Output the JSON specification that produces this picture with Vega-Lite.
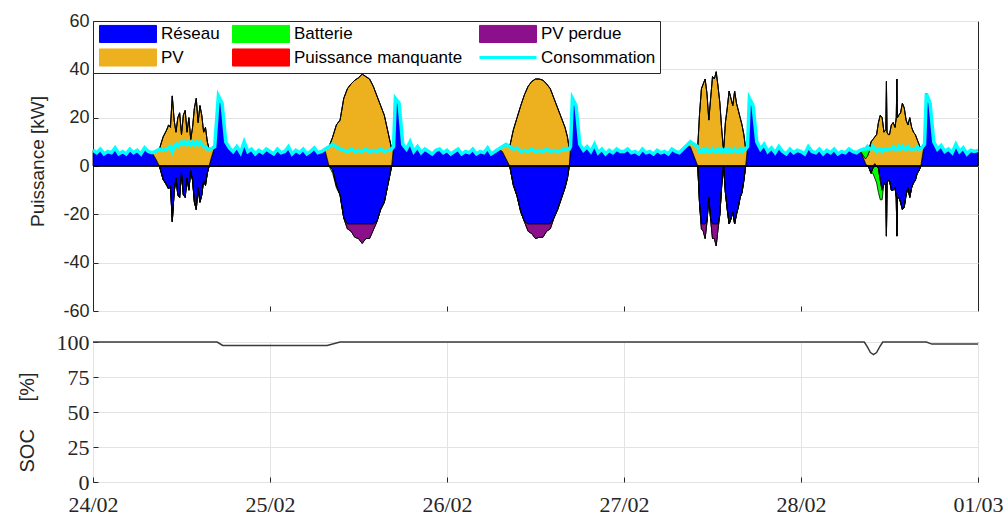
{
"$schema": "https://vega.github.io/schema/vega-lite/v6.json",
"background": "white",
"padding": {"left": 16, "top": 11, "right": 5, "bottom": 5},
"spacing": 31,
"bounds": "flush",
"resolve": {"scale": {"x": "independent", "y": "independent"}},
"config": {
"view": {"stroke": "#262626", "strokeWidth": 1},
"axis": {"domain": false, "tickColor": "#262626", "tickSize": -5, "tickWidth": 1, "labelColor": "#262626", "titleColor": "#262626", "titleFontWeight": "normal", "gridColor": "#e3e3e3", "gridWidth": 1},
"legend": {"symbolSize": 3249, "symbolType": "M-1,-0.3H1V0.3H-1Z", "symbolStrokeWidth": 1}
},
"datasets": {
"puissance": [
{"t":"2019-02-24T00:00","Réseau":6.5,"Consommation":6.5},
{"t":"2019-02-24T00:30","Réseau":5.5,"Consommation":5.5},
{"t":"2019-02-24T01:00","Réseau":7,"Consommation":7},
{"t":"2019-02-24T01:30","Réseau":5,"Consommation":5},
{"t":"2019-02-24T02:00","Réseau":6,"Consommation":6},
{"t":"2019-02-24T02:30","Réseau":5.5,"Consommation":5.5},
{"t":"2019-02-24T03:00","Réseau":7.5,"Consommation":7.5},
{"t":"2019-02-24T03:30","Réseau":5,"Consommation":5},
{"t":"2019-02-24T04:00","Réseau":6,"Consommation":6},
{"t":"2019-02-24T04:30","Réseau":5,"Consommation":5},
{"t":"2019-02-24T05:00","Réseau":7,"Consommation":7},
{"t":"2019-02-24T05:30","Réseau":5.5,"Consommation":5.5},
{"t":"2019-02-24T06:00","Réseau":6.5,"Consommation":6.5},
{"t":"2019-02-24T06:30","Réseau":5,"Consommation":5},
{"t":"2019-02-24T07:00","Réseau":7.5,"Consommation":7.5},
{"t":"2019-02-24T07:30","Réseau":6,"Consommation":6},
{"t":"2019-02-24T08:00","Réseau":5.5,"Consommation":5.5},
{"t":"2019-02-24T08:30","Réseau":3,"PV":3,"Consommation":6},
{"t":"2019-02-24T09:00","Réseau":0,"PV":7,"Consommation":7},
{"t":"2019-02-24T09:30","Réseau":-5.5,"PV":12,"Consommation":6.5},
{"t":"2019-02-24T10:00","Réseau":-8,"PV":15,"Consommation":7},
{"t":"2019-02-24T10:15","Réseau":-9.5,"PV":17,"Consommation":7.5},
{"t":"2019-02-24T10:30","Réseau":-8,"PV":16,"Consommation":8},
{"t":"2019-02-24T10:45","Réseau":-23,"PV":29,"Consommation":6},
{"t":"2019-02-24T11:00","Réseau":-11,"PV":19,"Consommation":8},
{"t":"2019-02-24T11:15","Réseau":-5,"PV":14,"Consommation":9},
{"t":"2019-02-24T11:30","Réseau":-12,"PV":20,"Consommation":8},
{"t":"2019-02-24T11:45","Réseau":-13,"PV":22,"Consommation":9},
{"t":"2019-02-24T12:00","Réseau":-3,"PV":13,"Consommation":10},
{"t":"2019-02-24T12:15","Réseau":-12,"PV":21,"Consommation":9},
{"t":"2019-02-24T12:30","Réseau":-13,"PV":23,"Consommation":10},
{"t":"2019-02-24T12:45","Réseau":-5,"PV":14,"Consommation":9},
{"t":"2019-02-24T13:00","Réseau":-10,"PV":20,"Consommation":10},
{"t":"2019-02-24T13:15","Réseau":-2,"PV":11,"Consommation":9},
{"t":"2019-02-24T13:30","Réseau":-6,"PV":16,"Consommation":10},
{"t":"2019-02-24T13:45","Réseau":-15,"PV":24,"Consommation":9},
{"t":"2019-02-24T14:00","Réseau":-18,"PV":28,"Consommation":10},
{"t":"2019-02-24T14:15","Réseau":-9,"PV":18,"Consommation":9},
{"t":"2019-02-24T14:30","Réseau":-15,"PV":25,"Consommation":10},
{"t":"2019-02-24T14:45","Réseau":-12,"PV":21,"Consommation":9},
{"t":"2019-02-24T15:00","Réseau":-6,"PV":14,"Consommation":8},
{"t":"2019-02-24T15:15","Réseau":-8,"PV":16,"Consommation":8},
{"t":"2019-02-24T15:30","Réseau":-3,"PV":10,"Consommation":7},
{"t":"2019-02-24T15:45","Réseau":0,"PV":7,"Consommation":7},
{"t":"2019-02-24T16:00","Réseau":3,"PV":4,"Consommation":7},
{"t":"2019-02-24T16:30","Réseau":8,"Consommation":8},
{"t":"2019-02-24T17:00","Réseau":29,"Consommation":29},
{"t":"2019-02-24T17:30","Réseau":26,"Consommation":26},
{"t":"2019-02-24T18:00","Réseau":10,"Consommation":10},
{"t":"2019-02-24T18:30","Réseau":7.5,"Consommation":7.5},
{"t":"2019-02-24T19:00","Réseau":6,"Consommation":6},
{"t":"2019-02-24T19:30","Réseau":8,"Consommation":8},
{"t":"2019-02-24T20:00","Réseau":5.5,"Consommation":5.5},
{"t":"2019-02-24T20:30","Réseau":10,"Consommation":10},
{"t":"2019-02-24T21:00","Réseau":6,"Consommation":6},
{"t":"2019-02-24T21:30","Réseau":7,"Consommation":7},
{"t":"2019-02-24T22:00","Réseau":5,"Consommation":5},
{"t":"2019-02-24T22:30","Réseau":6.5,"Consommation":6.5},
{"t":"2019-02-24T23:00","Réseau":5.5,"Consommation":5.5},
{"t":"2019-02-24T23:30","Réseau":7,"Consommation":7},
{"t":"2019-02-25T00:00","Réseau":6,"Consommation":6},
{"t":"2019-02-25T00:30","Réseau":5,"Consommation":5},
{"t":"2019-02-25T01:00","Réseau":7,"Consommation":7},
{"t":"2019-02-25T01:30","Réseau":5.5,"Consommation":5.5},
{"t":"2019-02-25T02:00","Réseau":6,"Consommation":6},
{"t":"2019-02-25T02:30","Réseau":8,"Consommation":8},
{"t":"2019-02-25T03:00","Réseau":5,"Consommation":5},
{"t":"2019-02-25T03:30","Réseau":6.5,"Consommation":6.5},
{"t":"2019-02-25T04:00","Réseau":5.5,"Consommation":5.5},
{"t":"2019-02-25T04:30","Réseau":7,"Consommation":7},
{"t":"2019-02-25T05:00","Réseau":5,"Consommation":5},
{"t":"2019-02-25T05:30","Réseau":6,"Consommation":6},
{"t":"2019-02-25T06:00","Réseau":7.5,"Consommation":7.5},
{"t":"2019-02-25T06:30","Réseau":5.5,"Consommation":5.5},
{"t":"2019-02-25T07:00","Réseau":6,"Consommation":6},
{"t":"2019-02-25T07:30","Réseau":6,"PV":1,"Consommation":7},
{"t":"2019-02-25T08:00","Réseau":0,"PV":8,"Consommation":8},
{"t":"2019-02-25T08:30","Réseau":-1.5,"PV":12,"Batterie":-1.5,"Consommation":9},
{"t":"2019-02-25T09:00","Réseau":-8,"PV":17,"Batterie":-1,"Consommation":8},
{"t":"2019-02-25T09:30","Réseau":-12,"PV":19,"Consommation":7},
{"t":"2019-02-25T10:00","Réseau":-21.5,"PV":28,"Consommation":6.5},
{"t":"2019-02-25T10:30","Réseau":-24,"PV":32,"PV perdue":-2,"Consommation":6},
{"t":"2019-02-25T11:00","Réseau":-24,"PV":34,"PV perdue":-3,"Consommation":7},
{"t":"2019-02-25T11:30","Réseau":-24,"PV":35.5,"PV perdue":-5.5,"Consommation":6},
{"t":"2019-02-25T12:00","Réseau":-24,"PV":36.5,"PV perdue":-6,"Consommation":6.5},
{"t":"2019-02-25T12:30","Réseau":-24,"PV":38,"PV perdue":-8,"Consommation":6},
{"t":"2019-02-25T13:00","Réseau":-24,"PV":37,"PV perdue":-6,"Consommation":7},
{"t":"2019-02-25T13:30","Réseau":-24,"PV":36,"PV perdue":-6,"Consommation":6},
{"t":"2019-02-25T14:00","Réseau":-24,"PV":33,"PV perdue":-2.5,"Consommation":6.5},
{"t":"2019-02-25T14:30","Réseau":-23,"PV":29,"Consommation":6},
{"t":"2019-02-25T15:00","Réseau":-18,"PV":25,"Consommation":7},
{"t":"2019-02-25T15:30","Réseau":-15,"PV":21,"Consommation":6},
{"t":"2019-02-25T16:00","Réseau":-7.5,"PV":14,"Consommation":6.5},
{"t":"2019-02-25T16:30","Réseau":0,"PV":7,"Consommation":7},
{"t":"2019-02-25T16:45","Réseau":8,"Consommation":8},
{"t":"2019-02-25T17:00","Réseau":28,"Consommation":28},
{"t":"2019-02-25T17:30","Réseau":26,"Consommation":26},
{"t":"2019-02-25T18:00","Réseau":9,"Consommation":9},
{"t":"2019-02-25T18:30","Réseau":7,"Consommation":7},
{"t":"2019-02-25T19:00","Réseau":10,"Consommation":10},
{"t":"2019-02-25T19:30","Réseau":6,"Consommation":6},
{"t":"2019-02-25T20:00","Réseau":8,"Consommation":8},
{"t":"2019-02-25T20:30","Réseau":5.5,"Consommation":5.5},
{"t":"2019-02-25T21:00","Réseau":7,"Consommation":7},
{"t":"2019-02-25T21:30","Réseau":6,"Consommation":6},
{"t":"2019-02-25T22:00","Réseau":5,"Consommation":5},
{"t":"2019-02-25T22:30","Réseau":6.5,"Consommation":6.5},
{"t":"2019-02-25T23:00","Réseau":7,"Consommation":7},
{"t":"2019-02-25T23:30","Réseau":5.5,"Consommation":5.5},
{"t":"2019-02-26T00:00","Réseau":6.5,"Consommation":6.5},
{"t":"2019-02-26T00:30","Réseau":5,"Consommation":5},
{"t":"2019-02-26T01:00","Réseau":6,"Consommation":6},
{"t":"2019-02-26T01:30","Réseau":7,"Consommation":7},
{"t":"2019-02-26T02:00","Réseau":5,"Consommation":5},
{"t":"2019-02-26T02:30","Réseau":6,"Consommation":6},
{"t":"2019-02-26T03:00","Réseau":5.5,"Consommation":5.5},
{"t":"2019-02-26T03:30","Réseau":7,"Consommation":7},
{"t":"2019-02-26T04:00","Réseau":5,"Consommation":5},
{"t":"2019-02-26T04:30","Réseau":6,"Consommation":6},
{"t":"2019-02-26T05:00","Réseau":5.5,"Consommation":5.5},
{"t":"2019-02-26T05:30","Réseau":7.5,"Consommation":7.5},
{"t":"2019-02-26T06:00","Réseau":5,"Consommation":5},
{"t":"2019-02-26T06:30","Réseau":6,"Consommation":6},
{"t":"2019-02-26T07:00","Réseau":7,"Consommation":7},
{"t":"2019-02-26T07:30","Réseau":6,"PV":2,"Consommation":8},
{"t":"2019-02-26T08:00","Réseau":3,"PV":6,"Consommation":9},
{"t":"2019-02-26T08:30","Réseau":0,"PV":8,"Consommation":8},
{"t":"2019-02-26T09:00","Réseau":-8,"PV":15,"Consommation":7},
{"t":"2019-02-26T09:30","Réseau":-12.5,"PV":20,"Consommation":7.5},
{"t":"2019-02-26T10:00","Réseau":-19,"PV":25,"Consommation":6},
{"t":"2019-02-26T10:30","Réseau":-23,"PV":29.5,"Consommation":6.5},
{"t":"2019-02-26T11:00","Réseau":-24,"PV":33,"PV perdue":-3,"Consommation":6},
{"t":"2019-02-26T11:30","Réseau":-24,"PV":35,"PV perdue":-4,"Consommation":7},
{"t":"2019-02-26T12:00","Réseau":-24,"PV":36,"PV perdue":-6,"Consommation":6},
{"t":"2019-02-26T12:30","Réseau":-24,"PV":36,"PV perdue":-5.5,"Consommation":6.5},
{"t":"2019-02-26T13:00","Réseau":-24,"PV":35.5,"PV perdue":-5.5,"Consommation":6},
{"t":"2019-02-26T13:30","Réseau":-24,"PV":34,"PV perdue":-3,"Consommation":7},
{"t":"2019-02-26T14:00","Réseau":-24,"PV":32,"PV perdue":-2,"Consommation":6},
{"t":"2019-02-26T14:30","Réseau":-21.5,"PV":28,"Consommation":6.5},
{"t":"2019-02-26T15:00","Réseau":-18,"PV":24,"Consommation":6},
{"t":"2019-02-26T15:30","Réseau":-13.5,"PV":20,"Consommation":6.5},
{"t":"2019-02-26T16:00","Réseau":-9,"PV":16,"Consommation":7},
{"t":"2019-02-26T16:20","Réseau":-5,"PV":12,"Consommation":7},
{"t":"2019-02-26T16:35","Réseau":0,"PV":7,"Consommation":7},
{"t":"2019-02-26T16:45","Réseau":8,"Consommation":8},
{"t":"2019-02-26T17:00","Réseau":28,"Consommation":28},
{"t":"2019-02-26T17:30","Réseau":25,"Consommation":25},
{"t":"2019-02-26T18:00","Réseau":9,"Consommation":9},
{"t":"2019-02-26T18:30","Réseau":6.5,"Consommation":6.5},
{"t":"2019-02-26T19:00","Réseau":8,"Consommation":8},
{"t":"2019-02-26T19:30","Réseau":6,"Consommation":6},
{"t":"2019-02-26T20:00","Réseau":9,"Consommation":9},
{"t":"2019-02-26T20:30","Réseau":5.5,"Consommation":5.5},
{"t":"2019-02-26T21:00","Réseau":7,"Consommation":7},
{"t":"2019-02-26T21:30","Réseau":5,"Consommation":5},
{"t":"2019-02-26T22:00","Réseau":6.5,"Consommation":6.5},
{"t":"2019-02-26T22:30","Réseau":5.5,"Consommation":5.5},
{"t":"2019-02-26T23:00","Réseau":7,"Consommation":7},
{"t":"2019-02-26T23:30","Réseau":6,"Consommation":6},
{"t":"2019-02-27T00:00","Réseau":6,"Consommation":6},
{"t":"2019-02-27T00:30","Réseau":7,"Consommation":7},
{"t":"2019-02-27T01:00","Réseau":5.5,"Consommation":5.5},
{"t":"2019-02-27T01:30","Réseau":6,"Consommation":6},
{"t":"2019-02-27T02:00","Réseau":5,"Consommation":5},
{"t":"2019-02-27T02:30","Réseau":7,"Consommation":7},
{"t":"2019-02-27T03:00","Réseau":5.5,"Consommation":5.5},
{"t":"2019-02-27T03:30","Réseau":6,"Consommation":6},
{"t":"2019-02-27T04:00","Réseau":5,"Consommation":5},
{"t":"2019-02-27T04:30","Réseau":6.5,"Consommation":6.5},
{"t":"2019-02-27T05:00","Réseau":5.5,"Consommation":5.5},
{"t":"2019-02-27T05:30","Réseau":6,"Consommation":6},
{"t":"2019-02-27T06:00","Réseau":5,"Consommation":5},
{"t":"2019-02-27T06:30","Réseau":7,"Consommation":7},
{"t":"2019-02-27T07:00","Réseau":6,"Consommation":6},
{"t":"2019-02-27T07:30","Réseau":5.5,"Consommation":5.5},
{"t":"2019-02-27T08:00","Réseau":7,"Consommation":7},
{"t":"2019-02-27T08:30","Réseau":8.5,"Consommation":8.5},
{"t":"2019-02-27T09:00","Réseau":8,"PV":2,"Consommation":10},
{"t":"2019-02-27T09:30","Réseau":4,"PV":5,"Consommation":9},
{"t":"2019-02-27T10:00","Réseau":0,"PV":8,"Consommation":8},
{"t":"2019-02-27T10:15","Réseau":-16,"PV":22,"Consommation":6},
{"t":"2019-02-27T10:30","Réseau":-24,"PV":32,"PV perdue":-2,"Consommation":6},
{"t":"2019-02-27T10:45","Réseau":-24,"PV":34,"PV perdue":-3,"Consommation":7},
{"t":"2019-02-27T11:00","Réseau":-24,"PV":36,"PV perdue":-6,"Consommation":6},
{"t":"2019-02-27T11:15","Réseau":-23,"PV":30,"Consommation":7},
{"t":"2019-02-27T11:30","Réseau":-13,"PV":19,"Consommation":6},
{"t":"2019-02-27T11:45","Réseau":-22,"PV":28,"Consommation":6},
{"t":"2019-02-27T12:00","Réseau":-24,"PV":37,"PV perdue":-6,"Consommation":7},
{"t":"2019-02-27T12:15","Réseau":-24,"PV":36,"PV perdue":-6,"Consommation":6},
{"t":"2019-02-27T12:30","Réseau":-24,"PV":39,"PV perdue":-9,"Consommation":6},
{"t":"2019-02-27T12:45","Réseau":-24,"PV":33,"PV perdue":-2,"Consommation":7},
{"t":"2019-02-27T13:00","Réseau":-20,"PV":26,"Consommation":6},
{"t":"2019-02-27T13:15","Réseau":-8,"PV":15,"Consommation":7},
{"t":"2019-02-27T13:30","Réseau":0,"PV":6,"Consommation":6},
{"t":"2019-02-27T13:45","Réseau":-11,"PV":18,"Consommation":7},
{"t":"2019-02-27T14:00","Réseau":-18,"PV":24,"Consommation":6},
{"t":"2019-02-27T14:15","Réseau":-24,"PV":31,"Consommation":7},
{"t":"2019-02-27T14:30","Réseau":-22,"PV":28,"Consommation":6},
{"t":"2019-02-27T14:45","Réseau":-19,"PV":25,"Consommation":6},
{"t":"2019-02-27T15:00","Réseau":-24,"PV":31,"Consommation":7},
{"t":"2019-02-27T15:15","Réseau":-20,"PV":26,"Consommation":6},
{"t":"2019-02-27T15:30","Réseau":-17,"PV":23,"Consommation":6},
{"t":"2019-02-27T15:45","Réseau":-13,"PV":20,"Consommation":7},
{"t":"2019-02-27T16:00","Réseau":-11,"PV":17,"Consommation":6},
{"t":"2019-02-27T16:15","Réseau":-6,"PV":13,"Consommation":7},
{"t":"2019-02-27T16:30","Réseau":0,"PV":7,"Consommation":7},
{"t":"2019-02-27T16:45","Réseau":8,"Consommation":8},
{"t":"2019-02-27T17:00","Réseau":28,"Consommation":28},
{"t":"2019-02-27T17:30","Réseau":25,"Consommation":25},
{"t":"2019-02-27T18:00","Réseau":10,"Consommation":10},
{"t":"2019-02-27T18:30","Réseau":7,"Consommation":7},
{"t":"2019-02-27T19:00","Réseau":9,"Consommation":9},
{"t":"2019-02-27T19:30","Réseau":6,"Consommation":6},
{"t":"2019-02-27T20:00","Réseau":7.5,"Consommation":7.5},
{"t":"2019-02-27T20:30","Réseau":5.5,"Consommation":5.5},
{"t":"2019-02-27T21:00","Réseau":8,"Consommation":8},
{"t":"2019-02-27T21:30","Réseau":6,"Consommation":6},
{"t":"2019-02-27T22:00","Réseau":5,"Consommation":5},
{"t":"2019-02-27T22:30","Réseau":7,"Consommation":7},
{"t":"2019-02-27T23:00","Réseau":5.5,"Consommation":5.5},
{"t":"2019-02-27T23:30","Réseau":6.5,"Consommation":6.5},
{"t":"2019-02-28T00:00","Réseau":6,"Consommation":6},
{"t":"2019-02-28T00:30","Réseau":5,"Consommation":5},
{"t":"2019-02-28T01:00","Réseau":8,"Consommation":8},
{"t":"2019-02-28T01:30","Réseau":6,"Consommation":6},
{"t":"2019-02-28T02:00","Réseau":5.5,"Consommation":5.5},
{"t":"2019-02-28T02:30","Réseau":7,"Consommation":7},
{"t":"2019-02-28T03:00","Réseau":5,"Consommation":5},
{"t":"2019-02-28T03:30","Réseau":6.5,"Consommation":6.5},
{"t":"2019-02-28T04:00","Réseau":5.5,"Consommation":5.5},
{"t":"2019-02-28T04:30","Réseau":7,"Consommation":7},
{"t":"2019-02-28T05:00","Réseau":5,"Consommation":5},
{"t":"2019-02-28T05:30","Réseau":6,"Consommation":6},
{"t":"2019-02-28T06:00","Réseau":5.5,"Consommation":5.5},
{"t":"2019-02-28T06:30","Réseau":7,"Consommation":7},
{"t":"2019-02-28T07:00","Réseau":6,"Consommation":6},
{"t":"2019-02-28T07:30","Réseau":5.5,"Consommation":5.5},
{"t":"2019-02-28T08:00","Réseau":6.5,"Consommation":6.5},
{"t":"2019-02-28T08:30","Réseau":3,"PV":1,"Batterie":3,"Consommation":7},
{"t":"2019-02-28T08:45","Réseau":1,"PV":2,"Batterie":4,"Consommation":7},
{"t":"2019-02-28T09:00","Réseau":0,"PV":4,"Batterie":4,"Consommation":8},
{"t":"2019-02-28T09:15","Réseau":-1,"PV":6,"Batterie":2,"Consommation":7},
{"t":"2019-02-28T09:30","Réseau":-3,"PV":10,"Consommation":7},
{"t":"2019-02-28T09:45","Réseau":-1,"PV":11,"Batterie":-2,"Consommation":8},
{"t":"2019-02-28T10:00","Réseau":1,"PV":11,"Batterie":-5,"Consommation":7},
{"t":"2019-02-28T10:15","Réseau":0,"PV":13,"Batterie":-7,"Consommation":6},
{"t":"2019-02-28T10:30","Réseau":-1,"PV":18,"Batterie":-10,"Consommation":7},
{"t":"2019-02-28T10:45","Réseau":-6,"PV":21,"Batterie":-8,"Consommation":7},
{"t":"2019-02-28T11:00","Réseau":-10,"PV":20,"Batterie":-4,"Consommation":6},
{"t":"2019-02-28T11:15","Réseau":-7,"PV":14,"Consommation":7},
{"t":"2019-02-28T11:30","Réseau":-8,"PV":15,"Consommation":7},
{"t":"2019-02-28T11:35","Réseau":-29,"PV":35,"Consommation":6},
{"t":"2019-02-28T11:40","Réseau":-7,"PV":14,"Consommation":7},
{"t":"2019-02-28T11:50","Réseau":-6,"PV":13,"Consommation":7},
{"t":"2019-02-28T12:00","Réseau":-6,"PV":13,"Consommation":7},
{"t":"2019-02-28T12:15","Réseau":-10,"PV":17,"Consommation":7},
{"t":"2019-02-28T12:30","Réseau":-10,"PV":18,"Consommation":8},
{"t":"2019-02-28T12:45","Réseau":-9,"PV":16,"Consommation":7},
{"t":"2019-02-28T12:55","Réseau":-13,"PV":20,"Consommation":7},
{"t":"2019-02-28T13:00","Réseau":-29,"PV":36,"Consommation":7},
{"t":"2019-02-28T13:05","Réseau":-13,"PV":20,"Consommation":7},
{"t":"2019-02-28T13:15","Réseau":-13,"PV":21,"Consommation":8},
{"t":"2019-02-28T13:30","Réseau":-15,"PV":22,"Consommation":7},
{"t":"2019-02-28T13:45","Réseau":-18,"PV":26,"Consommation":8},
{"t":"2019-02-28T14:00","Réseau":-17,"PV":24,"Consommation":7},
{"t":"2019-02-28T14:15","Réseau":-12,"PV":19,"Consommation":7},
{"t":"2019-02-28T14:30","Réseau":-9,"PV":17,"Consommation":8},
{"t":"2019-02-28T14:45","Réseau":-13,"PV":20,"Consommation":7},
{"t":"2019-02-28T15:00","Réseau":-9,"PV":16,"Consommation":7},
{"t":"2019-02-28T15:15","Réseau":-7,"PV":14,"Consommation":7},
{"t":"2019-02-28T15:30","Réseau":-6,"PV":13,"Consommation":7},
{"t":"2019-02-28T15:45","Réseau":-3,"PV":11,"Consommation":8},
{"t":"2019-02-28T16:00","Réseau":-2,"PV":9,"Consommation":7},
{"t":"2019-02-28T16:15","Réseau":0,"PV":7,"Consommation":7},
{"t":"2019-02-28T16:30","Réseau":5,"PV":3,"Consommation":8},
{"t":"2019-02-28T16:45","Réseau":9,"Consommation":9},
{"t":"2019-02-28T17:00","Réseau":30,"Consommation":30},
{"t":"2019-02-28T17:30","Réseau":26,"Consommation":26},
{"t":"2019-02-28T18:00","Réseau":10,"Consommation":10},
{"t":"2019-02-28T18:30","Réseau":7,"Consommation":7},
{"t":"2019-02-28T19:00","Réseau":8.5,"Consommation":8.5},
{"t":"2019-02-28T19:30","Réseau":6,"Consommation":6},
{"t":"2019-02-28T20:00","Réseau":7,"Consommation":7},
{"t":"2019-02-28T20:30","Réseau":5.5,"Consommation":5.5},
{"t":"2019-02-28T21:00","Réseau":9,"Consommation":9},
{"t":"2019-02-28T21:30","Réseau":6,"Consommation":6},
{"t":"2019-02-28T22:00","Réseau":7.5,"Consommation":7.5},
{"t":"2019-02-28T22:30","Réseau":5,"Consommation":5},
{"t":"2019-02-28T23:00","Réseau":6.5,"Consommation":6.5},
{"t":"2019-02-28T23:30","Réseau":6,"Consommation":6},
{"t":"2019-03-01T00:00","Réseau":6.5,"Consommation":6.5}
],
"soc": [
{"t":"2019-02-24T00:00","SOC":100},
{"t":"2019-02-24T16:50","SOC":100},
{"t":"2019-02-24T17:35","SOC":97.5},
{"t":"2019-02-25T07:45","SOC":97.5},
{"t":"2019-02-25T09:30","SOC":100},
{"t":"2019-02-28T08:35","SOC":100},
{"t":"2019-02-28T09:00","SOC":96.5},
{"t":"2019-02-28T09:25","SOC":92.5},
{"t":"2019-02-28T09:50","SOC":91},
{"t":"2019-02-28T10:15","SOC":92.5},
{"t":"2019-02-28T10:40","SOC":96.5},
{"t":"2019-02-28T11:05","SOC":100},
{"t":"2019-02-28T17:00","SOC":100},
{"t":"2019-02-28T17:45","SOC":98.5},
{"t":"2019-03-01T00:00","SOC":98.5}
]
},
"vconcat": [
{
"width": 885,
"height": 290,
"data": {"name": "puissance"},
"layer": [
{
"transform": [{"fold": ["Réseau", "PV", "Batterie"], "as": ["k", "v"]}, {"filter": "datum.v > 0"}],
"mark": {"type": "area", "stroke": "#000000", "strokeWidth": 0.8},
"encoding": {
"x": {"field": "t", "type": "temporal", "scale": {"domain": [{"year": 2019, "month": 2, "date": 24}, {"year": 2019, "month": 3, "date": 1}]}, "axis": {"title": null, "labels": false, "grid": false, "values": [{"year": 2019, "month": 2, "date": 25}, {"year": 2019, "month": 2, "date": 26}, {"year": 2019, "month": 2, "date": 27}, {"year": 2019, "month": 2, "date": 28}]}},
"y": {"field": "v", "type": "quantitative", "stack": "zero", "scale": {"domain": [-60, 60], "nice": false}, "axis": {"title": "Puissance [kW]", "values": [-60, -40, -20, 0, 20, 40, 60], "labelExpr": "'' + datum.value", "grid": true, "labelFont": "Liberation Sans", "labelFontSize": 18, "labelPadding": 9, "titleFont": "Liberation Sans", "titleFontSize": 19, "titlePadding": 15, "titleY": 140}},
"color": {"field": "k", "type": "nominal",
"scale": {"domain": ["Réseau", "PV", "Batterie", "Puissance manquante", "PV perdue", "Consommation"], "range": ["#0000FF", "#EDB120", "#00FF00", "#FF0000", "#8C0F8C", "#00FFFF"]},
"legend": {"title": null, "orient": "top-left", "offset": 0, "columns": 3, "padding": 4, "rowPadding": 1, "columnPadding": 10, "fillColor": "#ffffff", "strokeColor": "#262626", "symbolType": "M-1,-0.3H1V0.3H-1Z", "symbolSize": 3249, "symbolStrokeWidth": 1, "symbolStrokeColor": "#262626", "symbolOpacity": 1, "labelFont": "Liberation Sans", "labelFontSize": 17, "labelColor": "#000000", "labelOffset": 4, "labelLimit": 300,
"encode": {
"symbols": {"update": {
"x": {"value": 31},
"shape": {"signal": "datum.value === 'Consommation' ? 'M-1,0H1' : 'M-1,-0.3H1V0.3H-1Z'"},
"size": {"value": 3249},
"fill": {"signal": "datum.value === 'Consommation' ? 'transparent' : scale('color', datum.value)"},
"stroke": {"signal": "datum.value === 'Consommation' ? '#00FFFF' : '#262626'"},
"strokeWidth": {"signal": "datum.value === 'Consommation' ? 3 : 1"}
}},
"labels": {"update": {"x": {"value": 64}}}
}}},
"order": {"field": "k", "sort": "descending"}
}
},
{
"transform": [{"fold": ["Réseau", "PV perdue", "Batterie"], "as": ["k", "v"]}, {"filter": "datum.v <= 0"}, {"impute": "v", "key": "t", "groupby": ["k"], "value": -0.000001}],
"mark": {"type": "area", "stroke": "#000000", "strokeWidth": 0.8},
"encoding": {
"x": {"field": "t", "type": "temporal"},
"y": {"field": "v", "type": "quantitative", "stack": "zero"},
"color": {"field": "k", "type": "nominal", "scale": {"domain": ["Réseau", "PV", "Batterie", "Puissance manquante", "PV perdue", "Consommation"], "range": ["#0000FF", "#EDB120", "#00FF00", "#FF0000", "#8C0F8C", "#00FFFF"]}},
"order": {"field": "k", "sort": "descending"}
}
},
{
"data": {"values": [{}]},
"mark": {"type": "rule", "color": "#000000", "strokeWidth": 1.5},
"encoding": {"y": {"datum": 0}}
},
{
"mark": {"type": "line", "strokeWidth": 3.5},
"encoding": {
"x": {"field": "t", "type": "temporal"},
"y": {"field": "Consommation", "type": "quantitative"},
"color": {"datum": "Consommation", "scale": {"domain": ["Réseau", "PV", "Batterie", "Puissance manquante", "PV perdue", "Consommation"], "range": ["#0000FF", "#EDB120", "#00FF00", "#FF0000", "#8C0F8C", "#00FFFF"]}}
}
}
]
},
{
"width": 885,
"height": 140,
"data": {"name": "soc"},
"mark": {"type": "line", "color": "#3a3a3a", "strokeWidth": 1.5},
"encoding": {
"x": {"field": "t", "type": "temporal", "scale": {"domain": [{"year": 2019, "month": 2, "date": 24}, {"year": 2019, "month": 3, "date": 1}]}, "axis": {"title": null, "format": "%d/%m", "values": [{"year": 2019, "month": 2, "date": 24}, {"year": 2019, "month": 2, "date": 25}, {"year": 2019, "month": 2, "date": 26}, {"year": 2019, "month": 2, "date": 27}, {"year": 2019, "month": 2, "date": 28}, {"year": 2019, "month": 3, "date": 1}], "grid": true, "labelFont": "Liberation Serif", "labelFontSize": 22, "labelFlush": false, "labelPadding": 17}},
"y": {"field": "SOC", "type": "quantitative", "scale": {"domain": [0, 100], "nice": false}, "axis": {"title": "SOC\u00a0\u00a0\u00a0\u00a0\u00a0[%]", "values": [0, 25, 50, 75, 100], "labelFont": "Liberation Serif", "labelFontSize": 22, "labelPadding": 9, "titleFont": "Liberation Sans", "titleFontSize": 20, "titlePadding": 19, "titleY": 80, "grid": true}}
}
}
]
}
